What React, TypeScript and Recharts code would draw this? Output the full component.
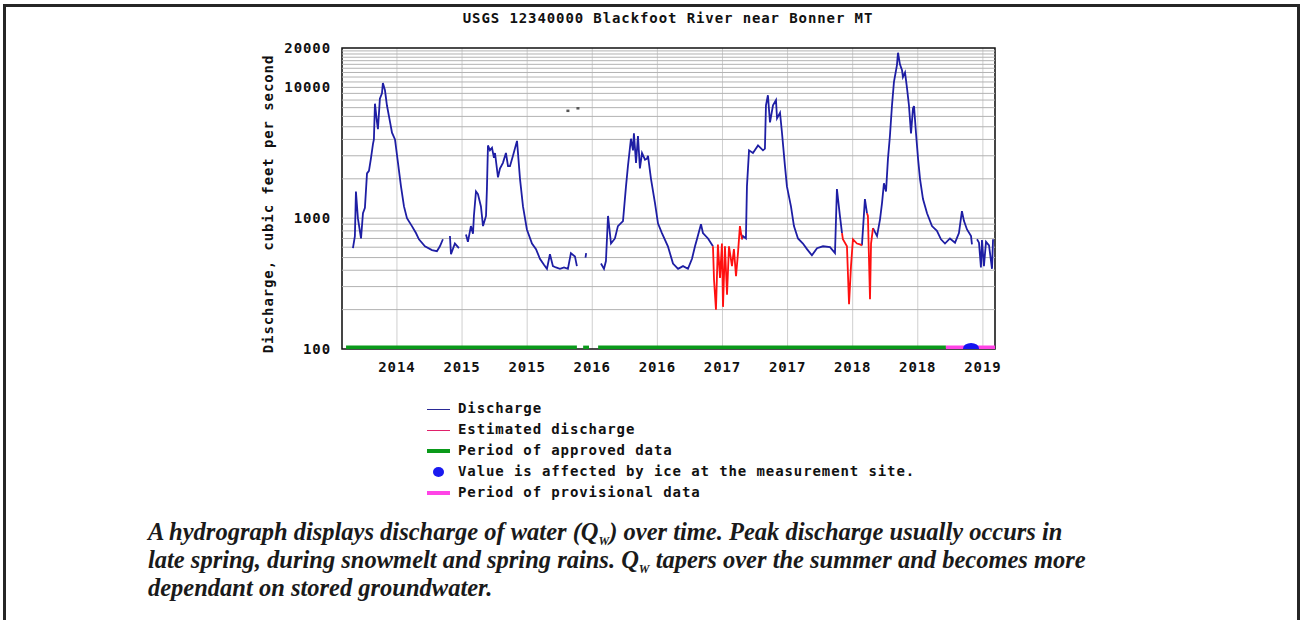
import {
  ComposedChart,
  CartesianGrid,
  Line,
  ReferenceArea,
  ReferenceLine,
  Scatter,
  XAxis,
  YAxis,
} from 'recharts'

// time is in decimal years, discharge in cubic feet per second
const dischargeT = [
  2014.162, 2014.177, 2014.185, 2014.2, 2014.224, 2014.239, 2014.254, 2014.27, 2014.285, 2014.3,
  2014.316, 2014.323, 2014.331, 2014.346, 2014.354, 2014.369, 2014.385, 2014.392, 2014.408, 2014.423,
  2014.446, 2014.462, 2014.485, 2014.508, 2014.531, 2014.554, 2014.577, 2014.615, 2014.646, 2014.669,
  2014.715, 2014.769, 2014.807, 2014.83, 2014.853, 2014.876, 2014.907, 2014.915, 2014.945, 2014.976,
  2015.0, 2015.03, 2015.045, 2015.068, 2015.084, 2015.091, 2015.107, 2015.122, 2015.145, 2015.161,
  2015.184, 2015.191, 2015.199, 2015.214, 2015.23, 2015.245, 2015.253, 2015.276, 2015.291, 2015.314,
  2015.337, 2015.353, 2015.368, 2015.391, 2015.422, 2015.429, 2015.445, 2015.468, 2015.498, 2015.537,
  2015.568, 2015.598, 2015.629, 2015.652, 2015.675, 2015.698, 2015.721, 2015.752, 2015.783, 2015.813,
  2015.836, 2015.867, 2015.882, 2015.905, 2015.948, 2015.953, 2015.982, 2016.067, 2016.09, 2016.105,
  2016.121, 2016.144, 2016.174, 2016.197, 2016.236, 2016.259, 2016.274, 2016.297, 2016.313, 2016.32,
  2016.336, 2016.351, 2016.366, 2016.382, 2016.405, 2016.42, 2016.428, 2016.451, 2016.482, 2016.505,
  2016.535, 2016.581, 2016.62, 2016.659, 2016.697, 2016.735, 2016.766, 2016.789, 2016.804, 2016.835,
  2016.85, 2016.889, 2016.927, 2016.94, 2017.15, 2017.157, 2017.18, 2017.188, 2017.204, 2017.234,
  2017.273, 2017.311, 2017.326, 2017.334, 2017.349, 2017.365, 2017.388, 2017.411, 2017.419, 2017.442,
  2017.457, 2017.48, 2017.495, 2017.526, 2017.549, 2017.58, 2017.618, 2017.649, 2017.687, 2017.726,
  2017.772, 2017.826, 2017.864, 2017.879, 2017.902, 2017.918, 2017.93, 2018.071, 2018.094, 2018.11,
  2018.115, 2018.156, 2018.187, 2018.21, 2018.225, 2018.24, 2018.256, 2018.271, 2018.286, 2018.302,
  2018.317, 2018.34, 2018.348, 2018.363, 2018.379, 2018.386, 2018.402, 2018.417, 2018.432, 2018.448,
  2018.463, 2018.471, 2018.486, 2018.502, 2018.517, 2018.54, 2018.571, 2018.609, 2018.647, 2018.678,
  2018.709, 2018.747, 2018.786, 2018.816, 2018.839, 2018.855, 2018.878, 2018.909, 2018.916, 2018.932,
  2018.955, 2018.97, 2018.985, 2018.993, 2019.008, 2019.024, 2019.047, 2019.07, 2019.078,
]
const dischargeQ = [
  590, 730, 1600, 1000, 700, 1090, 1200, 2200, 2300, 2850,
  3700, 4000, 7500, 5500, 4800, 8200, 9000, 10800, 9500, 7300,
  5500, 4500, 4000, 2650, 1750, 1230, 1000, 870, 770, 690,
  610, 570, 560, 610, 690, null, 730, 530, 640, 590,
  null, 750, 660, 870, 760, 1040, 1600, 1530, 1230, 870,
  1040, 1680, 3600, 3300, 3450, 2900, 3150, 2050, 2400, 2650,
  3150, 2500, 2500, 3000, 3900, 3200, 2000, 1230, 820, 640,
  580, 490, 440, 410, 530, 430, 420, 410, 420, 410,
  540, 510, 430, null, 500, 540, null, 450, 410, 470,
  1040, 640, 700, 870, 950, 1750, 2500, 4050, 3300, 4450,
  2650, 4250, 2400, 3150, 2800, 2850, 3000, 2000, 1300, 910,
  770, 610, 450, 410, 430, 410, 490, 610, 690, 900,
  770, 700, 610, null, 690, 730, 700, 1750, 3300, 3150,
  3600, 3300, 3400, 7300, 8700, 5400, 7300, 8000, 5800, 6400,
  4500, 2500, 1750, 1230, 870, 700, 640, 580, 520, 590,
  610, 600, 540, 1670, 1040, 770, null, 620, 1400, 1090,
  null, 840, 730, 980, 1300, 1850, 1600, 2850, 4250, 7300,
  11000, 14800, 18400, 15000, 13500, 12000, 13000, 9900, 7300, 4450,
  6900, 7200, 4500, 2850, 2000, 1400, 1090, 870, 800, 690,
  640, 700, 650, 770, 1130, 950, 820, 730, 630, null,
  690, 650, 420, 680, 430, 660, 620, 410, 690,
]

const estimatedT = [
  2016.927, 2016.935, 2016.95, 2016.965, 2016.981, 2016.996, 2017.004, 2017.019, 2017.035, 2017.05,
  2017.073, 2017.088, 2017.104, 2017.119, 2017.134, 2017.15, 2017.5, 2017.918, 2017.925, 2017.956,
  2017.972, 2017.987, 2018.002, 2018.033, 2018.056, 2018.071, 2018.09, 2018.11, 2018.117, 2018.133,
  2018.141, 2018.156,
]
const estimatedQ = [
  610, 340, 200, 630, 350, 640, 210, 610, 260, 610,
  430, 580, 360, 540, 870, 690, null, 770, 690, 610,
  220, 430, 690, 640, 630, 620, null, 1090, 1040, 240,
  640, 840,
]

const approvedPeriods = [
  [2014.109, 2015.882],
  [2015.93, 2015.975],
  [2016.045, 2018.716],
]
const provisionalPeriods = [[2018.716, 2019.093]]
const iceT = [2018.909]
const strayT = [2015.813, 2015.89]
const strayQ = [6650, 6950]

const xTicks = [2014.5, 2015, 2015.5, 2016, 2016.5, 2017, 2017.5, 2018, 2018.5, 2019]
const yTicks = [100, 1000, 10000, 20000]
const hGrid = [
  200, 300, 400, 500, 600, 700, 800, 900, 1000,
  2000, 3000, 4000, 5000, 6000, 7000, 8000, 9000, 10000,
  11000, 12000, 13000, 14000, 15000, 16000, 17000, 18000, 19000,
]

const legendItems = [
  { label: 'Discharge', kind: 'thin', color: '#2a2a96' },
  { label: 'Estimated discharge', kind: 'thin', color: '#e0206a' },
  { label: 'Period of approved data', kind: 'thick', color: '#0a9a1a' },
  { label: 'Value is affected by ice at the measurement site.', kind: 'dot', color: '#1a1af0' },
  { label: 'Period of provisional data', kind: 'thick', color: '#ff44e6' },
]

const X_MIN = 2014.078
const X_MAX = 2019.093
const BAR_Q = 102.5
const mono = '"DejaVu Sans Mono", monospace'
const tickStyle = { fontFamily: mono, fontSize: 14, fontWeight: 'bold', fill: '#111', letterSpacing: 0.9 }

const dischargeData = dischargeT.map((t, i) => ({ t, q: dischargeQ[i] }))
const estimatedData = estimatedT.map((t, i) => ({ t, q: estimatedQ[i] }))
const iceData = iceT.map((t) => ({ t, q: 101 }))
const strayData = strayT.map((t, i) => ({ t, q: strayQ[i] }))

function IceMark(props: any) {
  return <ellipse cx={props.cx} cy={props.cy} rx={8} ry={5.5} fill="#1414f0" />
}

function StrayMark(props: any) {
  return <rect x={props.cx - 1.5} y={props.cy - 1} width={3} height={2.5} fill="#555" />
}

function LegendMarker({ kind, color }: { kind: string; color: string }) {
  if (kind === 'dot') {
    return (
      <span style={{ display: 'inline-block', width: 23, textAlign: 'center' }}>
        <span
          style={{
            display: 'inline-block',
            width: 11,
            height: 10,
            borderRadius: '50%',
            background: color,
            verticalAlign: 'middle',
          }}
        />
      </span>
    )
  }
  return (
    <span
      style={{
        display: 'inline-block',
        width: 23,
        height: kind === 'thick' ? 4 : 1,
        background: color,
        verticalAlign: 'middle',
      }}
    />
  )
}

const sub = { fontSize: 12, position: 'relative' as const, top: 5, lineHeight: 0 }
const captionLine = {
  position: 'absolute' as const,
  left: 148,
  whiteSpace: 'nowrap' as const,
  fontFamily: '"Liberation Serif", serif',
  fontStyle: 'italic',
  fontWeight: 'bold',
  fontSize: 24.5,
  lineHeight: '28px',
  color: '#1a1a1a',
}

export default function App() {
  return (
    <div
      style={{
        position: 'absolute',
        left: 0,
        top: 0,
        width: 1303,
        height: 620,
        overflow: 'hidden',
        background: '#fff',
      }}
    >
      <div
        style={{
          position: 'absolute',
          left: 3,
          top: 4,
          width: 1291,
          height: 640,
          border: '3px solid #262626',
        }}
      />

      <div
        style={{
          position: 'absolute',
          left: 0,
          width: 1336,
          top: 10,
          textAlign: 'center',
          fontFamily: mono,
          fontWeight: 'bold',
          fontSize: 14,
          letterSpacing: 0.9,
          color: '#111',
        }}
      >
        USGS 12340000 Blackfoot River near Bonner MT
      </div>

      <div
        style={{
          position: 'absolute',
          left: 268,
          top: 204,
          transform: 'translate(-50%, -50%) rotate(-90deg)',
          whiteSpace: 'nowrap',
          fontFamily: mono,
          fontWeight: 'bold',
          fontSize: 14,
          letterSpacing: 0.9,
          color: '#111',
        }}
      >
        Discharge, cubic feet per second
      </div>

      <div style={{ position: 'absolute', left: 0, top: 0 }}>
        <ComposedChart
          width={1303}
          height={400}
          margin={{ top: 48, right: 308, bottom: 11, left: 252 }}
        >
          <CartesianGrid horizontal={false} stroke="#cfcfcf" />
          {hGrid.map((v) => (
            <ReferenceLine key={v} y={v} stroke="#b2b2b2" strokeWidth={1} />
          ))}
          <XAxis
            dataKey="t"
            type="number"
            domain={[X_MIN, X_MAX]}
            ticks={xTicks}
            interval={0}
            allowDataOverflow
            tickFormatter={(v: number) => String(Math.floor(v))}
            axisLine={false}
            tickLine={false}
            tickSize={6}
            tickMargin={7}
            height={40}
            tick={tickStyle}
          />
          <YAxis
            type="number"
            scale="log"
            domain={[100, 20000]}
            ticks={yTicks}
            interval={0}
            allowDataOverflow
            axisLine={false}
            tickLine={false}
            tickSize={6}
            tickMargin={5}
            width={90}
            tick={tickStyle}
          />
          <Line
            data={dischargeData}
            dataKey="q"
            stroke="#1e1ea4"
            strokeWidth={1.8}
            dot={false}
            isAnimationActive={false}
          />
          <Line
            data={estimatedData}
            dataKey="q"
            stroke="#ff1010"
            strokeWidth={1.8}
            dot={false}
            isAnimationActive={false}
          />
          {approvedPeriods.map(([a, b]) => (
            <Line
              key={`a${a}`}
              data={[
                { t: a, q: BAR_Q },
                { t: b, q: BAR_Q },
              ]}
              dataKey="q"
              stroke="#0a9a1a"
              strokeWidth={4}
              dot={false}
              isAnimationActive={false}
            />
          ))}
          {provisionalPeriods.map(([a, b]) => (
            <Line
              key={`p${a}`}
              data={[
                { t: a, q: BAR_Q },
                { t: b, q: BAR_Q },
              ]}
              dataKey="q"
              stroke="#ff44e6"
              strokeWidth={4}
              dot={false}
              isAnimationActive={false}
            />
          ))}
          <Scatter data={iceData} dataKey="q" shape={IceMark} isAnimationActive={false} />
          <Scatter data={strayData} dataKey="q" shape={StrayMark} isAnimationActive={false} />
          <ReferenceArea
            x1={X_MIN}
            x2={X_MAX}
            y1={100}
            y2={20000}
            fill="none"
            stroke="#111"
            strokeWidth={1.5}
          />
        </ComposedChart>
      </div>

      <div
        style={{
          position: 'absolute',
          left: 427,
          top: 398,
          fontFamily: mono,
          fontWeight: 'bold',
          fontSize: 14,
          letterSpacing: 0.9,
          color: '#111',
        }}
      >
        {legendItems.map((item) => (
          <div key={item.label} style={{ height: 21, lineHeight: '21px', whiteSpace: 'nowrap' }}>
            <LegendMarker kind={item.kind} color={item.color} />
            <span style={{ marginLeft: 8 }}>{item.label}</span>
          </div>
        ))}
      </div>

      <div style={{ ...captionLine, top: 518 }}>
        A hydrograph displays discharge of water (Q<span style={sub}>W</span>) over time. Peak
        discharge usually occurs in
      </div>
      <div style={{ ...captionLine, top: 546 }}>
        late spring, during snowmelt and spring rains. Q<span style={sub}>W</span> tapers over the
        summer and becomes more
      </div>
      <div style={{ ...captionLine, top: 574 }}>dependant on stored groundwater.</div>
    </div>
  )
}
